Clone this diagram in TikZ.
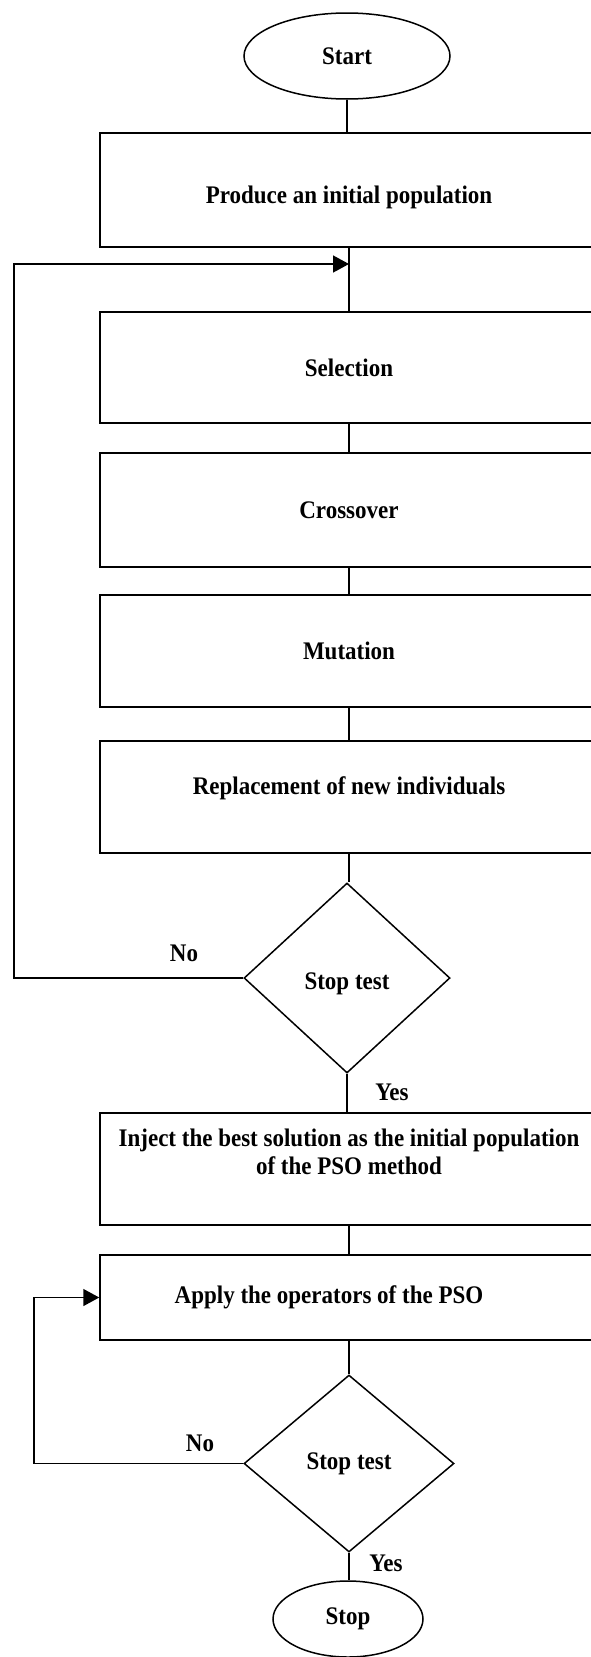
\documentclass[tikz,border=0pt]{standalone}
\usepackage{fontspec}
\setmainfont{Liberation Serif}
\usetikzlibrary{shapes.geometric,arrows.meta}

\newcommand{\tallbf}[1]{\scalebox{1}[1.1]{\bfseries #1}}

\begin{document}
\begin{tikzpicture}[x=1pt,y=-1pt,line width=1.5pt,
    every node/.style={font=\fontsize{23}{26}\selectfont},
    stepbox/.style={draw,rectangle,minimum width=498pt,inner sep=0pt},
    term/.style={draw,ellipse,inner sep=0pt},
    test/.style={draw,diamond,inner sep=0pt},
    arr/.style={-{Triangle[length=16pt,width=17pt]}}]
          \path[use as bounding box] (0,0) rectangle (591,1657);
          \clip (0,0) rectangle (591,1657);

          \node[term,minimum width=206pt,minimum height=86pt] (start) at (347,56) {\tallbf{Start}};
          \node[stepbox,minimum height=114pt] (init) at (349,190) {\tallbf{\rule{0pt}{30pt}Produce an initial population}};
          \node[stepbox,minimum height=111pt] (sel) at (349,367.5) {\tallbf{Selection}};
          \node[stepbox,minimum height=114pt] (cross) at (349,510) {\tallbf{Crossover}};
          \node[stepbox,minimum height=112pt] (mut) at (349,651) {\tallbf{Mutation}};
          \node[stepbox,minimum height=112pt] (repl) at (349,797) {\tallbf{Replacement of new individuals\rule[-20pt]{0pt}{0pt}}};
          \node[test,minimum width=206pt,minimum height=190pt] (test1) at (347,978) {\tallbf{\rule{0pt}{26pt}Stop test}};
          \node[stepbox,minimum height=112pt] (inject) at (349,1169)
              {\tallbf{\begin{tabular}{@{}c@{}}Inject the best solution as the initial population\\ of the PSO method\\ \mbox{}\end{tabular}}};
          \node[stepbox,minimum height=85pt] (apply) at (349,1297.5) {\tallbf{Apply the operators of the PSO\hspace*{40pt}}};
          \node[test,minimum width=210pt,minimum height=177pt] (test2) at (349,1463.5) {\tallbf{Stop test}};
          \node[term,minimum width=150pt,minimum height=76pt] (stop) at (348,1619) {\tallbf{Stop}};

          \draw (start) -- (start |- init.north);
          \draw (init) -- (sel);
          \draw (sel) -- (cross);
          \draw (cross) -- (mut);
          \draw (mut) -- (repl);
          \draw (repl) -- (repl |- test1.north);
          \draw (test1) -- (test1 |- inject.north);
          \draw (inject) -- (apply);
          \draw (apply) -- (test2);
          \draw (test2) -- (test2 |- stop.north);

          % loops back
          \coordinate (back1) at (14,264);
          \coordinate (join1) at (349,264);
          \draw[arr] (test1.west) -| (back1) -- (join1);
          \coordinate (back2) at (34,1297.5);
          \draw[arr] (test2.west) -| (back2) -- (apply.west);

          \node (no1) at (184,953) {\tallbf{No}};
          \node (yes1) at (392,1092) {\tallbf{Yes}};
          \node (no2) at (200,1443) {\tallbf{No}};
          \node (yes2) at (386,1563) {\tallbf{Yes}};
        \end{tikzpicture}
\end{document}
